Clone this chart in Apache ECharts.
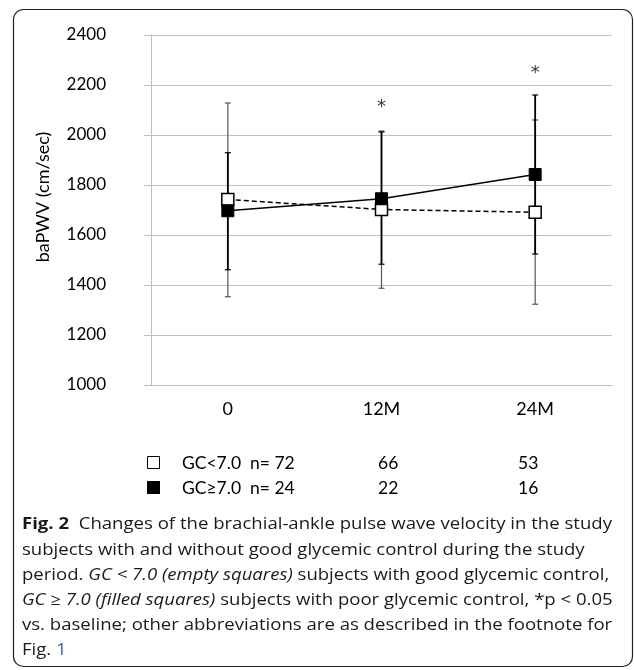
<!DOCTYPE html>
<html>
<head>
<meta charset="utf-8">
<script src="https://cdn.jsdelivr.net/npm/echarts@6/dist/echarts.min.js"></script>
<style>html,body{margin:0;padding:0;background:#fff;}#c{width:634px;height:670px;}</style>
</head>
<body>
<div id="c"></div>
<script>
// ---- data ----
const categories = ['0', '12M', '24M'];
const goodMean = [1742, 1702, 1691];       // GC<7.0 (empty squares)
const goodLow = [1353, 1387, 1323];
const goodHigh = [2128, 2016, 2060];
const poorMean = [1697, 1745, 1842];       // GC>=7.0 (filled squares)
const poorLow = [1461, 1483, 1524];
const poorHigh = [1929, 2012, 2160];
const starCats = [1, 2];
const starValues = [2128, 2264];
const yTicks = { min: 1000, max: 2400, step: 200 };
const goodN = ['GC<7.0  n= 72', '66', '53'];
const poorN = ['GC\u22657.0  n= 24', '22', '16'];

const chart = echarts.init(document.getElementById('c'), null, { renderer: 'canvas' });

function errData(lo, hi) { return lo.map((v, i) => [i, v, hi[i]]); }
function errRender(color, width) {
  return function (params, api) {
    const x = api.value(0);
    const a = api.coord([x, api.value(1)]);
    const b = api.coord([x, api.value(2)]);
    const hw = 3;
    const st = { stroke: color, lineWidth: width };
    return {
      type: 'group',
      children: [
        { type: 'line', shape: { x1: a[0], y1: a[1], x2: b[0], y2: b[1] }, style: st },
        { type: 'line', shape: { x1: a[0] - hw, y1: a[1], x2: a[0] + hw, y2: a[1] }, style: { stroke: color, lineWidth: 1.2 } },
        { type: 'line', shape: { x1: b[0] - hw, y1: b[1], x2: b[0] + hw, y2: b[1] }, style: { stroke: color, lineWidth: 1.2 } }
      ]
    };
  };
}

// caption
const capFont = '"Open Sans", sans-serif';
const capSize = 16;
const captionLines = [
  [{ t: 'Fig. 2', f: 'bold' }, { t: '  Changes of the brachial-ankle pulse wave velocity in the study' }],
  [{ t: 'subjects with and without good glycemic control during the study' }],
  [{ t: 'period. ' }, { t: 'GC < 7.0 (empty squares)', f: 'italic' }, { t: ' subjects with good glycemic control,' }],
  [{ t: 'GC \u2265 7.0 (filled squares)', f: 'italic' }, { t: ' subjects with poor glycemic control, *p < 0.05' }],
  [{ t: 'vs. baseline; other abbreviations are as described in the footnote for' }],
  [{ t: 'Fig. ' }, { t: '1', c: '#3d63c8' }]
];
const capY = [524, 550, 575, 600, 625, 650];
const capX = 22;
const capTargetW = 590;

const mc = document.createElement('canvas').getContext('2d');
function fontStr(f) {
  const w = f === 'bold' ? 'bold ' : '';
  const s = f === 'italic' ? 'italic ' : '';
  return s + w + capSize + 'px ' + capFont;
}
function measure(seg) { mc.font = fontStr(seg.f); return mc.measureText(seg.t).width; }
const line0W = captionLines[0].reduce((s, g) => s + measure(g), 0);
const capScale = capTargetW / line0W;

const graphics = [];
graphics.push({
  type: 'rect', shape: { x: 13.5, y: 9.5, width: 619, height: 657, r: 10 },
  style: { fill: 'none', stroke: '#222', lineWidth: 1.2 }, silent: true
});
captionLines.forEach((segs, li) => {
  let x = 0;
  const children = [];
  segs.forEach(seg => {
    children.push({
      type: 'text', x: x, y: 0,
      style: {
        text: seg.t, fill: seg.c || '#1a1a1a', font: fontStr(seg.f),
        textAlign: 'left', textVerticalAlign: 'middle'
      }
    });
    x += measure(seg);
  });
  graphics.push({ type: 'group', x: capX, y: capY[li], scaleX: capScale, children: children });
});
// y axis name
graphics.push({
  type: 'text', x: 43, y: 197, rotation: Math.PI / 2,
  style: { text: 'baPWV (cm/sec)', fill: '#000', font: '18px Lato, sans-serif', textAlign: 'center', textVerticalAlign: 'middle' }
});
// n table
const tableFont = '17.5px Lato, sans-serif';
const rowY = [463, 488];
const colX = [182, 378, 518];
[goodN, poorN].forEach((row, r) => {
  row.forEach((t, i) => {
    graphics.push({
      type: 'text', x: colX[i], y: rowY[r],
      style: { text: t, fill: '#000', font: tableFont, textAlign: 'left', textVerticalAlign: 'middle' }
    });
  });
});
graphics.push({ type: 'rect', shape: { x: 147.5, y: 456.5, width: 12, height: 12 }, style: { fill: '#fff', stroke: '#000', lineWidth: 1 } });
graphics.push({ type: 'rect', shape: { x: 147, y: 481, width: 13, height: 13 }, style: { fill: '#000' } });

const option = {
  animation: false,
  backgroundColor: '#fff',
  grid: { left: 151, right: 22, top: 35, bottom: 285 },
  xAxis: {
    type: 'category', data: categories, boundaryGap: true,
    axisLine: { show: true, lineStyle: { color: '#bfbfbf', width: 1 } },
    axisTick: { show: false },
    axisLabel: { color: '#000', fontSize: 18, fontFamily: 'Lato', margin: 15 },
    splitLine: { show: false }
  },
  yAxis: {
    type: 'value', min: yTicks.min, max: yTicks.max, interval: yTicks.step,
    axisLine: { show: true, lineStyle: { color: '#bfbfbf', width: 1 } },
    axisTick: { show: true, length: 7, lineStyle: { color: '#bfbfbf' } },
    axisLabel: { color: '#000', fontSize: 17, fontFamily: 'Lato', margin: 45, formatter: v => String(v) },
    splitLine: { show: true, lineStyle: { color: '#c0c0c0', width: 1 } }
  },
  graphic: graphics,
  series: [
    { type: 'custom', name: 'errGood', data: errData(goodLow, goodHigh), renderItem: errRender('#555', 1.2), z: 1, silent: true },
    { type: 'custom', name: 'errPoor', data: errData(poorLow, poorHigh), renderItem: errRender('#000', 1.8), z: 2, silent: true },
    {
      type: 'line', name: 'GC<7.0', data: goodMean, z: 3,
      symbol: 'rect', symbolSize: 12, showAllSymbol: true,
      itemStyle: { color: '#fff', borderColor: '#000', borderWidth: 1.5 },
      lineStyle: { color: '#000', width: 1.5, type: [5, 3] }
    },
    {
      type: 'line', name: 'GC>=7.0', data: poorMean, z: 4,
      symbol: 'rect', symbolSize: 12, showAllSymbol: true,
      itemStyle: { color: '#000', borderColor: '#000', borderWidth: 1 },
      lineStyle: { color: '#000', width: 1.5, type: 'solid' }
    },
    {
      type: 'scatter', name: 'stars', z: 5, symbolSize: 1, itemStyle: { color: 'rgba(0,0,0,0)' },
      data: starCats.map((c, i) => [c, starValues[i]]),
      label: { show: true, formatter: '*', position: 'inside', color: '#000', fontSize: 18, fontFamily: 'DejaVu Sans', offset: [0, 4] }
    }
  ]
};
chart.setOption(option);
</script>
</body>
</html>
